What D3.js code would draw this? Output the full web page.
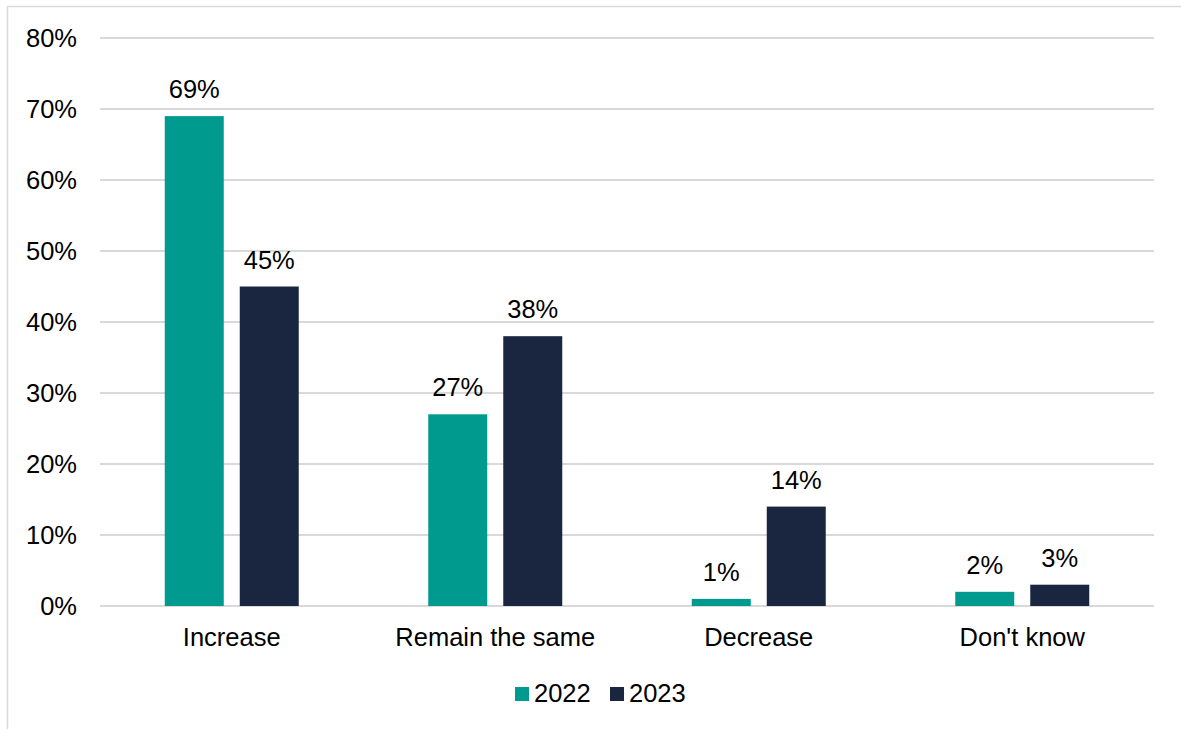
<!DOCTYPE html>
<html><head><meta charset="utf-8">
<script src="https://cdn.jsdelivr.net/npm/d3@7"></script>
<style>body{margin:0;background:#fff;} text{font-family:"Liberation Sans",Arial,sans-serif;}</style>
</head><body>
<svg id="c" width="1181" height="729"></svg>
<script>
const categories = ["Increase","Remain the same","Decrease","Don't know"];
const seriesNames = ["2022","2023"];
const values2022 = [69,27,1,2];
const values2023 = [45,38,14,3];
const yTicks = [0,10,20,30,40,50,60,70,80];
const colors = ["#009A8F","#1A2640"];

(function(){
const FS = 25.5;
const svg = d3.select("#c");
svg.append("rect").attr("x",7.5).attr("y",6.5).attr("width",1300).attr("height",900)
  .attr("fill","#fff").attr("stroke","#d9d9d9").attr("stroke-width",1.5);

const pLeft=100,pRight=1154,pTop=38,pBottom=606;
const x = d3.scaleBand().domain(categories).range([pLeft,pRight]).paddingInner(0).paddingOuter(0);
const y = d3.scaleLinear().domain([0,80]).range([pBottom,pTop]);
const bw = 59, gap = 16;
const xs = d3.scaleBand().domain(seriesNames).range([0,2*bw+gap]).paddingInner(gap/(bw+gap)).paddingOuter(0);

svg.append("g").selectAll("line").data(yTicks).join("line")
  .attr("x1",pLeft).attr("x2",pRight).attr("y1",d=>y(d)).attr("y2",d=>y(d))
  .attr("stroke","#d9d9d9").attr("stroke-width",2);
svg.append("g").selectAll("text").data(yTicks).join("text")
  .attr("x",77).attr("y",d=>y(d)).attr("dy","0.36em").attr("text-anchor","end")
  .attr("font-size",FS).attr("fill","#000").text(d=>d+"%");

const data = [values2022, values2023];
const groupOffset = (x.bandwidth() - (2*bw+gap))/2;
data.forEach((vals,si)=>{
  const g = svg.append("g");
  g.selectAll("rect").data(categories).join("rect")
    .attr("x",(c)=>x(c)+groupOffset+xs(seriesNames[si]))
    .attr("width",xs.bandwidth())
    .attr("y",(c,i)=>y(vals[i]))
    .attr("height",(c,i)=>pBottom-y(vals[i]))
    .attr("fill",colors[si]);
  g.selectAll("text").data(categories).join("text")
    .attr("x",(c)=>x(c)+groupOffset+xs(seriesNames[si])+xs.bandwidth()/2)
    .attr("y",(c,i)=>y(vals[i])-18)
    .attr("text-anchor","middle").attr("font-size",FS).attr("fill","#000")
    .text((c,i)=>vals[i]+"%");
});

svg.append("g").selectAll("text").data(categories).join("text")
  .attr("x",c=>x(c)+x.bandwidth()/2).attr("y",646)
  .attr("text-anchor","middle").attr("font-size",FS).attr("fill","#000").text(d=>d);

const legX=[515,610];
seriesNames.forEach((s,i)=>{
  svg.append("rect").attr("x",legX[i]).attr("y",687).attr("width",14).attr("height",14).attr("fill",colors[i]);
  svg.append("text").attr("x",legX[i]+19).attr("y",702).attr("font-size",FS).attr("fill","#000").text(s);
});
})();
</script>
</body></html>
